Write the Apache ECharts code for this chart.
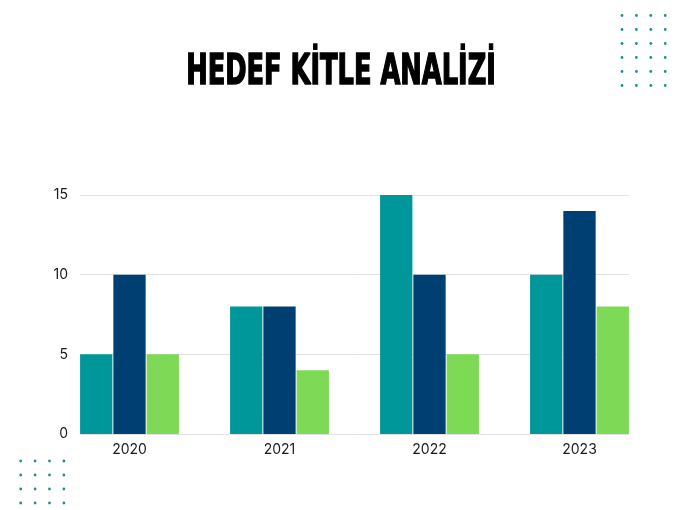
<!DOCTYPE html>
<html>
<head>
<meta charset="utf-8">
<script src="https://cdn.jsdelivr.net/npm/echarts@6/dist/echarts.min.js"></script>
<style>
  html, body { margin: 0; padding: 0; background: #fff; }
  #chart { width: 680px; height: 510px; }
</style>
</head>
<body>
<div id="chart"></div>
<script>
// veriler
var years = ['2020', '2021', '2022', '2023'];
var seriesA = [5, 8, 15, 10];
var seriesB = [10, 8, 10, 14];
var seriesC = [5, 4, 5, 8];
var yTicks = [0, 5, 10, 15];

var colors = ['#00979a', '#003f72', '#7ed957'];
var dotColor = '#1f8f8f';

// dekoratif noktalar
function dots(x0, y0, cols, rows, dx, dy) {
  var out = [];
  for (var r = 0; r < rows; r++) {
    for (var c = 0; c < cols; c++) {
      out.push({
        type: 'circle',
        shape: { cx: x0 + c * dx, cy: y0 + r * dy, r: 1.4 },
        style: { fill: dotColor },
        silent: true
      });
    }
  }
  return out;
}

var chart = echarts.init(document.getElementById('chart'));

var font = 'Inter, "Noto Sans", sans-serif';

var option = {
  backgroundColor: '#fff',
  animation: false,
  color: colors,
  graphic: [
    {
      type: 'text',
      x: 341,
      y: 73,
      scaleX: 0.68,
      style: {
        x: 0,
        y: 0,
        text: 'HEDEF KİTLE ANALİZİ',
        align: 'center',
        verticalAlign: 'middle',
        font: 'bold 42px "Liberation Sans Narrow", "DejaVu Sans Condensed", sans-serif',
        fill: '#000',
        stroke: '#000',
        lineWidth: 1.5
      }
    }
  ].concat(dots(622, 15.5, 4, 6, 14.4, 14), dots(20.7, 461, 4, 4, 14.4, 14)),
  grid: [
    { left: 80, right: 51, top: 195, bottom: 76 },
    { left: 54.5, right: 25.5, top: 195, bottom: 76 }
  ],
  xAxis: [
    {
      gridIndex: 0,
      type: 'category',
      data: years,
      show: false
    },
    {
      gridIndex: 1,
      type: 'category',
      data: years,
      axisLine: { show: false },
      axisTick: { show: false },
      axisLabel: { color: '#1a1a1a', fontSize: 14, fontFamily: font, margin: 9 }
    }
  ],
  yAxis: [
    {
      gridIndex: 0,
      type: 'value',
      min: yTicks[0],
      max: yTicks[yTicks.length - 1],
      interval: 5,
      axisLine: { show: false },
      axisTick: { show: false },
      axisLabel: { color: '#1a1a1a', fontSize: 14, fontFamily: font, margin: 12 },
      splitLine: { lineStyle: { color: '#e2e2e2', width: 1 } }
    },
    {
      gridIndex: 1,
      type: 'value',
      min: yTicks[0],
      max: yTicks[yTicks.length - 1],
      interval: 5,
      show: false,
      splitLine: { show: false }
    }
  ],
  series: [
    { name: 'A', type: 'bar', xAxisIndex: 1, yAxisIndex: 1, data: seriesA, barWidth: 32.3, barGap: '3%' },
    { name: 'B', type: 'bar', xAxisIndex: 1, yAxisIndex: 1, data: seriesB, barWidth: 32.3, barGap: '3%' },
    { name: 'C', type: 'bar', xAxisIndex: 1, yAxisIndex: 1, data: seriesC, barWidth: 32.3, barGap: '3%' }
  ]
};

chart.setOption(option);
</script>
</body>
</html>
